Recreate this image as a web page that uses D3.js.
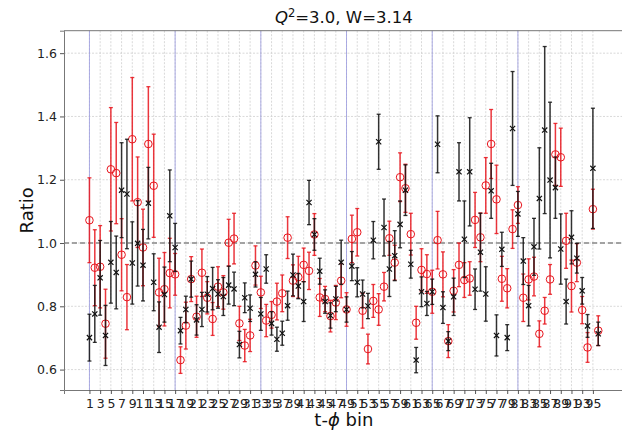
<!DOCTYPE html>
<html><head><meta charset="utf-8">
<script src="https://cdn.jsdelivr.net/npm/d3@7"></script>
<style>body{margin:0;background:#fff}svg{display:block}</style>
</head><body>
<svg id="c" width="622" height="431"></svg>
<script>
const bins = d3.range(1, 97);
const redVal = [1.072,0.922,0.925,0.745,1.233,1.221,0.963,0.829,1.328,1.129,0.986,1.313,1.181,0.844,0.854,0.905,
0.901,0.630,0.739,0.886,0.767,0.906,0.827,0.760,0.862,0.844,1.001,1.014,0.746,0.676,0.708,0.929,
0.844,0.755,0.773,0.815,0.841,1.017,0.881,0.892,0.931,0.912,1.027,0.828,0.823,0.769,0.812,0.881,
0.790,1.013,1.034,0.786,0.665,0.817,0.790,0.862,1.015,0.938,1.208,1.173,1.028,0.748,0.915,0.902,
0.846,1.009,0.901,0.690,0.849,0.931,0.883,0.888,1.073,1.018,1.182,1.313,1.138,0.887,0.857,1.044,
1.120,0.827,0.885,0.894,0.713,0.786,0.885,1.280,1.271,1.007,0.864,0.938,0.788,0.670,1.107,0.723];
const redErr = [0.134,0.120,0.130,0.109,0.195,0.160,0.114,0.103,0.195,0.143,0.121,0.181,0.163,0.108,0.116,0.110,
0.066,0.042,0.074,0.071,0.065,0.075,0.051,0.052,0.063,0.053,0.074,0.080,0.054,0.051,0.051,0.062,
0.051,0.051,0.042,0.058,0.058,0.066,0.050,0.066,0.053,0.059,0.066,0.060,0.040,0.050,0.054,0.054,
0.053,0.075,0.075,0.055,0.047,0.052,0.050,0.045,0.054,0.055,0.077,0.076,0.066,0.052,0.067,0.061,
0.068,0.091,0.071,0.052,0.067,0.069,0.055,0.053,0.087,0.077,0.088,0.109,0.108,0.071,0.062,0.061,
0.058,0.075,0.065,0.061,0.041,0.042,0.047,0.098,0.092,0.087,0.082,0.060,0.043,0.047,0.063,0.047];
const blackVal = [0.701,0.776,0.890,0.708,0.939,0.907,1.167,1.155,0.937,0.999,0.930,1.126,0.876,0.734,0.837,1.086,
0.986,0.723,0.790,0.886,0.757,0.790,0.838,0.856,0.839,0.831,0.867,0.855,0.679,0.827,0.794,0.901,
0.776,0.918,0.746,0.696,0.715,0.802,0.899,0.864,0.815,1.128,1.027,0.911,0.815,0.771,0.823,0.939,
0.790,0.927,0.876,0.839,0.801,1.009,1.320,1.049,0.918,0.960,1.059,1.167,0.933,0.630,0.846,0.809,
0.846,1.312,0.796,0.690,0.830,1.225,1.012,1.225,0.854,0.971,0.839,1.165,0.708,0.980,0.701,1.362,
1.092,0.943,0.802,0.988,1.141,1.357,1.199,1.175,0.981,0.815,1.018,0.952,0.849,0.738,1.236,0.713];
const blackErr = [0.074,0.090,0.118,0.095,0.129,0.115,0.150,0.173,0.130,0.135,0.113,0.113,0.090,0.080,0.087,0.145,
0.076,0.042,0.042,0.057,0.048,0.054,0.056,0.067,0.045,0.060,0.060,0.053,0.042,0.047,0.042,0.040,
0.052,0.045,0.037,0.038,0.038,0.046,0.066,0.040,0.063,0.070,0.050,0.041,0.037,0.040,0.040,0.070,
0.040,0.046,0.046,0.044,0.040,0.059,0.087,0.090,0.087,0.079,0.074,0.080,0.044,0.040,0.047,0.038,
0.040,0.090,0.050,0.030,0.059,0.092,0.121,0.171,0.064,0.123,0.086,0.087,0.065,0.054,0.041,0.180,
0.071,0.074,0.064,0.090,0.160,0.264,0.246,0.097,0.111,0.071,0.084,0.047,0.042,0.036,0.190,0.037];
const xTicks = d3.range(1, 96, 2);
const blueLines = [1, 17, 33, 49, 65, 81];
const yTicks = [0.6, 0.8, 1.0, 1.2, 1.4, 1.6];

const svg = d3.select("#c");
const L = 64, R = 623.7, T = 30.7, B = 390;
const x = d3.scaleLinear().domain([-3.75, 100.75]).range([L, R]);
const y = d3.scaleLinear().domain([0.5355, 1.671]).range([B, T]);
const font = "DejaVu Sans, sans-serif";

svg.append("defs").append("clipPath").attr("id","clip").append("rect")
  .attr("x", L).attr("y", T).attr("width", R - L).attr("height", B - T);

// grid
const g = svg.append("g");
g.selectAll(".vg").data(xTicks).join("line")
  .attr("x1", d => x(d)).attr("x2", d => x(d)).attr("y1", T).attr("y2", B)
  .attr("stroke", "#cfcfcf").attr("stroke-width", 0.8).attr("stroke-dasharray", "2,1.5");
g.selectAll(".hg").data(yTicks).join("line")
  .attr("x1", L).attr("x2", R).attr("y1", d => y(d)).attr("y2", d => y(d))
  .attr("stroke", "#cfcfcf").attr("stroke-width", 0.8).attr("stroke-dasharray", "2,1.5");
g.selectAll(".bl").data(blueLines).join("line")
  .attr("x1", d => x(d)).attr("x2", d => x(d)).attr("y1", T).attr("y2", B)
  .attr("stroke", "#9a9ae0").attr("stroke-width", 1).attr("opacity", 0.8);
g.append("line").attr("x1", L).attr("x2", R).attr("y1", y(1)).attr("y2", y(1))
  .attr("stroke", "#888").attr("stroke-width", 1.3).attr("stroke-dasharray", "5,3");

// axes
const xa = svg.append("g").attr("transform", `translate(0,${B})`)
  .call(d3.axisBottom(x).tickValues(xTicks).tickSize(4).tickFormat(d3.format("d")));
const ya = svg.append("g").attr("transform", `translate(${L},0)`)
  .call(d3.axisLeft(y).tickValues(yTicks).tickSize(4).tickFormat(d3.format(".1f")));
[xa, ya].forEach(a => {
  a.select(".domain").attr("stroke", "#777").attr("stroke-width", 1);
  a.selectAll(".tick line").attr("stroke", "#555");
  a.selectAll("text").attr("font-family", font).attr("fill", "#222");
});
xa.selectAll("text").attr("font-size", 12.5).attr("dy", "0.9em");
ya.selectAll("text").attr("font-size", 12.5);
// top spine
svg.append("line").attr("x1", L).attr("x2", R).attr("y1", T).attr("y2", T)
  .attr("stroke", "#777").attr("stroke-width", 1);

// data
const plot = svg.append("g").attr("clip-path", "url(#clip)");
function series(vals, errs, color, marker) {
  const gg = plot.append("g");
  const d = bins.map((b, i) => ({b, v: vals[i], e: errs[i]}));
  gg.selectAll(".eb").data(d).join("line")
    .attr("x1", p => x(p.b)).attr("x2", p => x(p.b))
    .attr("y1", p => y(p.v - p.e)).attr("y2", p => y(p.v + p.e))
    .attr("stroke", color).attr("stroke-width", 1.5).attr("opacity", 0.85);
  ["lo","hi"].forEach(k => {
    gg.selectAll(".cap" + k).data(d).join("line")
      .attr("x1", p => x(p.b) - 2).attr("x2", p => x(p.b) + 2)
      .attr("y1", p => y(k === "lo" ? p.v - p.e : p.v + p.e))
      .attr("y2", p => y(k === "lo" ? p.v - p.e : p.v + p.e))
      .attr("stroke", color).attr("stroke-width", 1.3).attr("opacity", 0.85);
  });
  if (marker === "o") {
    gg.selectAll(".m").data(d).join("circle")
      .attr("cx", p => x(p.b)).attr("cy", p => y(p.v)).attr("r", 3.8)
      .attr("fill", "none").attr("stroke", color).attr("stroke-width", 1);
  } else {
    const s = 2.6;
    gg.selectAll(".m").data(d).join("path")
      .attr("d", p => { const cx = x(p.b), cy = y(p.v);
        return `M${cx-s},${cy-s}L${cx+s},${cy+s}M${cx-s},${cy+s}L${cx+s},${cy-s}`; })
      .attr("stroke", color).attr("stroke-width", 1.2).attr("fill", "none");
  }
}
series(redVal, redErr, "#e8141c", "o");
series(blackVal, blackErr, "#111", "x");

// labels
svg.append("text").attr("x", (L + R) / 2).attr("y", 23).attr("text-anchor", "middle")
  .attr("font-family", font).attr("font-size", 16.5).attr("fill", "#111")
  .html('<tspan font-style="italic">Q</tspan><tspan dy="-6" font-size="11.5">2</tspan><tspan dy="6">=3.0, W=3.14</tspan>');
svg.append("text").attr("transform", `translate(33,${(T + B) / 2}) rotate(-90)`)
  .attr("text-anchor", "middle").attr("font-family", font).attr("font-size", 18).attr("fill", "#111")
  .text("Ratio");
svg.append("text").attr("x", (L + R) / 2).attr("y", 426).attr("text-anchor", "middle")
  .attr("font-family", font).attr("font-size", 18).attr("fill", "#111")
  .html('t-<tspan font-style="italic">ϕ</tspan> bin');
</script>
</body></html>
